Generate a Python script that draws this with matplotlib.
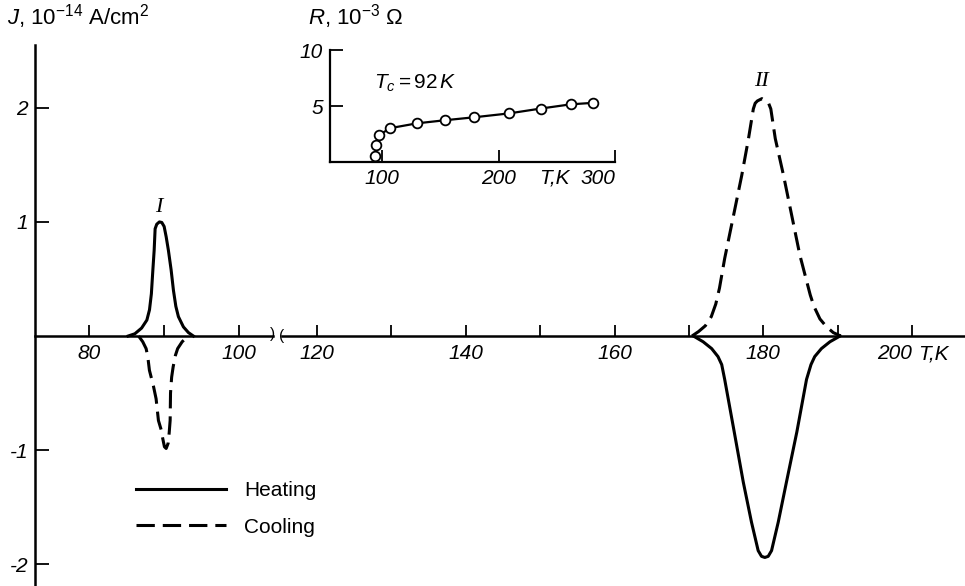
import matplotlib
matplotlib.use("Agg")

import matplotlib.pyplot as plt
from matplotlib.transforms import blended_transform_factory

plt.rcParams["font.family"] = ["Liberation Sans", "DejaVu Sans"]
plt.rcParams["mathtext.fontset"] = "custom"
plt.rcParams["mathtext.rm"] = "Liberation Sans"
plt.rcParams["mathtext.it"] = "Liberation Sans:italic"
plt.rcParams["axes.unicode_minus"] = False

# peak I (around 89 K)
heat_1_T = [85.2, 86.1, 87.0, 87.7, 88.05, 88.3, 88.5, 88.67, 88.8, 89.02,
            89.37, 89.69, 90.0, 90.27, 90.57, 90.93, 91.24, 91.56, 91.9,
            92.57, 93.24, 93.9]
heat_1_J = [0.0, 0.02, 0.07, 0.14, 0.23, 0.37, 0.58, 0.75, 0.94, 0.98,
            1.0, 0.995, 0.96, 0.87, 0.75, 0.58, 0.40, 0.26, 0.17,
            0.08, 0.03, 0.0]

cool_1_T = [86.6, 87.15, 87.6, 87.82, 88.04, 88.58, 88.93, 89.24, 89.6,
            89.82, 90.04, 90.27, 90.53, 90.67, 90.8, 90.85, 91.0, 91.2,
            91.5, 91.8, 92.4, 93.2]
cool_1_J = [0.0, -0.05, -0.11, -0.18, -0.30, -0.44, -0.55, -0.74, -0.82,
            -0.90, -0.97, -0.985, -0.94, -0.85, -0.74, -0.50, -0.36, -0.27,
            -0.17, -0.11, -0.05, 0.0]

# peak II (around 180 K)
heat_2_T = [170.6, 171.9, 173.05, 173.9, 174.4, 174.8, 176.0, 177.3, 178.4,
            179.3, 179.75, 180.2, 180.65, 181.1, 182.0, 183.1, 184.5, 185.8,
            186.4, 186.9, 187.8, 188.95, 190.3]
heat_2_J = [0.0, -0.05, -0.11, -0.18, -0.25, -0.38, -0.81, -1.28, -1.63,
            -1.88, -1.93, -1.94, -1.93, -1.88, -1.63, -1.28, -0.84, -0.38,
            -0.25, -0.18, -0.11, -0.05, 0.0]

cool_2_T = [170.4, 171.3, 172.2, 173.0, 173.6, 174.1, 174.8, 176.0, 177.1,
            178.0, 178.65, 178.9, 179.2, 179.8, 180.35, 180.7, 181.0, 181.6,
            182.7, 183.8, 184.9, 186.3, 186.8, 187.6, 188.5, 189.4, 190.4]
cool_2_J = [0.0, 0.04, 0.09, 0.17, 0.28, 0.42, 0.68, 1.06, 1.41,
            1.73, 1.99, 2.04, 2.06, 2.08, 2.06, 2.04, 1.99, 1.73,
            1.41, 1.06, 0.71, 0.36, 0.26, 0.15, 0.08, 0.03, 0.0]

# inset: resistance vs temperature
r_T = [94, 94.8, 97.4, 106.6, 129.6, 154, 178.7, 209, 236, 262, 281]
r_R = [0.54, 1.55, 2.41, 3.02, 3.45, 3.73, 3.99, 4.34, 4.77, 5.15, 5.28]

left_ticks = [80, 90, 100]
left_labels = ["80", "", "100"]
right_ticks = [120, 130, 140, 150, 160, 170, 180, 190, 200]
right_labels = ["120", "", "140", "", "160", "", "180", "", "200"]
y_ticks = [-2, -1, 1, 2]
y_labels = ["-2", "-1", "1", "2"]

NUM = dict(family=["Liberation Sans"], style="italic", size=15)
LW = 2.2
DASH = (6, 2.6)

W, H = 965, 586
fig = plt.figure(figsize=(W / 100, H / 100), dpi=100)

ax1 = fig.add_axes([35 / W, 0, 238 / W, 541 / H])
ax2 = fig.add_axes([282 / W, 0, 683 / W, 541 / H])

for ax in (ax1, ax2):
    ax.set_ylim(-2.19, 2.55)
    ax.spines["top"].set_visible(False)
    ax.spines["right"].set_visible(False)
    ax.spines["bottom"].set_position(("data", 0))
    ax.spines["bottom"].set_linewidth(1.8)
    ax.spines["left"].set_linewidth(1.8)
    ax.tick_params(axis="x", direction="in", length=8, width=1.3, pad=6)
    ax.set_facecolor("none")

ax1.set_xlim(72.8, 104.5)
ax2.set_xlim(115.3, 207.1)
ax2.spines["left"].set_visible(False)
ax2.tick_params(axis="y", left=False, labelleft=False)

ax1.set_xticks(left_ticks)
ax1.set_xticklabels(left_labels, **NUM)
ax2.set_xticks(right_ticks)
ax2.set_xticklabels(right_labels, **NUM)
ax2.get_xticklabels()[-1].set_ha("right")
ax2.annotate("T,K", xy=(200, 0), xytext=(4, -6), textcoords="offset points",
             ha="left", va="top", **NUM)

ax1.set_yticks(y_ticks)
ax1.set_yticklabels(y_labels, **NUM)
ax1.tick_params(axis="y", direction="in", length=10, width=1.3, pad=5)

h1, = ax1.plot(heat_1_T, heat_1_J, color="black", lw=LW, label="Heating")
c1, = ax1.plot(cool_1_T, cool_1_J, color="black", lw=LW, ls="--",
               dashes=DASH, label="Cooling")
ax2.plot(heat_2_T, heat_2_J, color="black", lw=LW)
ax2.plot(cool_2_T, cool_2_J, color="black", lw=LW, ls="--", dashes=DASH)

ax1.text(89.3, 1.13, "I", family="Liberation Serif", style="italic",
         size=16, ha="center", va="center")
ax2.text(179.8, 2.23, "II", family="Liberation Serif", style="italic",
         size=16, ha="center", va="center")

# axis break marks
tr1 = blended_transform_factory(ax1.transAxes, ax1.transData)
tr2 = blended_transform_factory(ax2.transAxes, ax2.transData)
ax1.text(1.0, 0.02, ")", transform=tr1, ha="center", va="center", size=11)
ax2.text(0.0, 0.0, "(", transform=tr2, ha="center", va="center", size=11)

fig.text(7 / W, 1 - 17 / H, r"$J$, 10$^{-14}$ A/cm$^2$", size=16,
         ha="left", va="center")

fig.legend(handles=[h1, c1], loc="upper left",
           bbox_to_anchor=(136 / W, 1 - 481 / H), frameon=False,
           handlelength=4.3, handletextpad=0.9, labelspacing=0.85,
           borderpad=0, borderaxespad=0, prop=dict(size=15))

# inset
axi = fig.add_axes([330 / W, (H - 162) / H, 285 / W, 112 / H])
axi.set_xlim(55, 300)
axi.set_ylim(0, 10)
axi.spines["top"].set_visible(False)
axi.spines["right"].set_visible(False)
axi.spines["left"].set_linewidth(1.6)
axi.spines["bottom"].set_linewidth(1.6)
axi.set_facecolor("none")
axi.tick_params(direction="in", length=9, width=1.3, pad=5)
axi.set_xticks([100, 200, 300])
axi.set_xticklabels(["100", "200", "300"], **NUM)
axi.get_xticklabels()[-1].set_ha("right")
axi.set_yticks([5, 10])
axi.set_yticklabels(["5", "10"], **NUM)
axi.annotate("T,K", xy=(248, 0), xytext=(0, -5), textcoords="offset points",
             ha="center", va="top", **NUM)
axi.plot(r_T, r_R, color="black", lw=1.6, marker="o", ms=7,
         mfc="white", mec="black", mew=1.3, clip_on=False)
axi.text(93, 7.0, r"$T_c = 92\,K$", size=15, ha="left", va="center")

fig.text(308 / W, 1 - 17 / H, r"$R$, 10$^{-3}$ $\Omega$", size=16,
         ha="left", va="center")

fig.savefig("out.png", dpi=100)
plt.close(fig)
